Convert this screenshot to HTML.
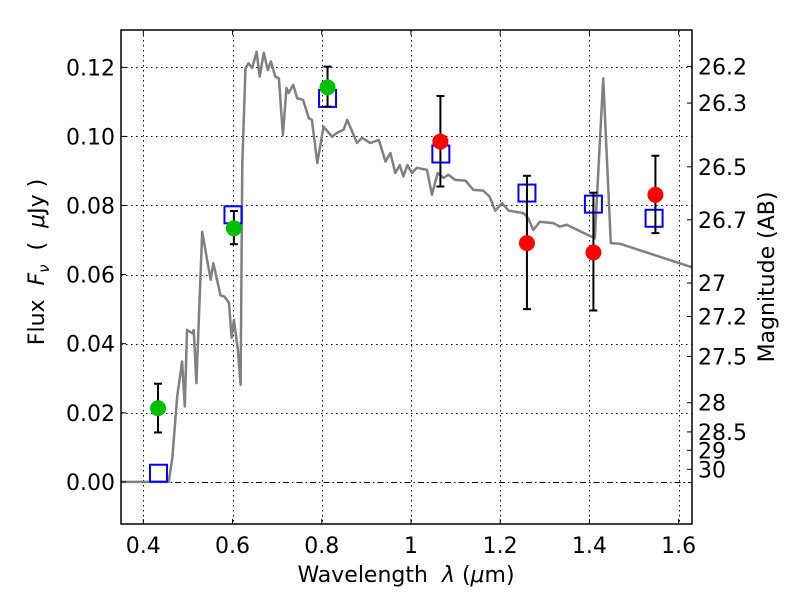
<!DOCTYPE html>
<html><head><meta charset="utf-8"><style>
html,body{margin:0;padding:0;background:#fff;}
svg{display:block;font-family:"DejaVu Sans","Liberation Sans",sans-serif;}
</style></head><body>
<svg id="chart" width="800" height="600">
<g id="grid"></g>
<g id="spec"></g>
<g id="marks"></g>
<g id="axes"></g>
<text x="406" y="582" font-size="22" text-anchor="middle" xml:space="preserve">Wavelength  <tspan font-style="italic">λ</tspan> (<tspan font-style="italic">μ</tspan>m)</text>
<text transform="translate(44,262) rotate(-90)" font-size="22" text-anchor="middle" xml:space="preserve">Flux  <tspan font-style="italic">F<tspan font-size="15" dy="5">ν</tspan></tspan><tspan dy="-5">  (  </tspan><tspan font-style="italic">μ</tspan>Jy )</text>
<text transform="translate(774,277) rotate(-90)" font-size="22" text-anchor="middle">Magnitude (AB)</text>
</svg>
<script>
const xTicks=[0.4,0.6,0.8,1.0,1.2,1.4,1.6];
const xTickLabels=["0.4","0.6","0.8","1","1.2","1.4","1.6"];
const yTicks=[0,0.02,0.04,0.06,0.08,0.10,0.12];
const yTickLabels=["0.00","0.02","0.04","0.06","0.08","0.10","0.12"];
const magTicks=[26.2,26.3,26.5,26.7,27,27.2,27.5,28,28.5,29,30];
const magLabels=["26.2","26.3","26.5","26.7","27","27.2","27.5","28","28.5","29","30"];
const specLam=[0.35,0.457,0.465,0.476,0.487,0.493,0.498,0.510,0.513,0.519,0.532,0.543,0.551,0.557,0.573,0.582,0.592,0.598,0.603,0.612,0.618,0.622,0.629,0.636,0.644,0.654,0.661,0.670,0.679,0.686,0.696,0.704,0.713,0.721,0.726,0.736,0.745,0.758,0.771,0.778,0.790,0.804,0.823,0.834,0.849,0.857,0.879,0.890,0.909,0.928,0.943,0.954,0.965,0.975,0.983,0.992,1.002,1.013,1.036,1.047,1.060,1.073,1.084,1.099,1.122,1.140,1.162,1.176,1.189,1.204,1.219,1.252,1.263,1.274,1.289,1.319,1.334,1.349,1.412,1.431,1.448,1.469,1.63];
const specFlux=[0,0,0.0069,0.0247,0.0348,0.0218,0.044,0.043,0.044,0.0286,0.0724,0.0643,0.0585,0.0633,0.054,0.0536,0.0518,0.0417,0.0469,0.0382,0.0281,0.0923,0.1198,0.1212,0.1198,0.1245,0.1173,0.1242,0.1192,0.1217,0.1173,0.1168,0.1004,0.114,0.1126,0.1149,0.111,0.1106,0.1053,0.1048,0.0923,0.1028,0.0999,0.101,0.1019,0.1048,0.0981,0.0996,0.0981,0.099,0.0927,0.0952,0.0894,0.0917,0.0884,0.0917,0.0894,0.0909,0.0903,0.0831,0.0894,0.088,0.0889,0.0874,0.0872,0.0845,0.0843,0.0826,0.0785,0.0807,0.0785,0.0778,0.0763,0.0729,0.0753,0.0749,0.0739,0.0744,0.0705,0.1168,0.0691,0.0689,0.0621];
const greenLam=[0.433,0.603,0.813];
const greenFlux=[0.0213,0.0734,0.1142];
const greenLo=[0.0143,0.0688,0.1086];
const greenHi=[0.0284,0.0784,0.1202];
const redLam=[1.066,1.260,1.409,1.548];
const redFlux=[0.0985,0.0691,0.0664,0.0831];
const redLo=[0.0855,0.050,0.0496,0.072];
const redHi=[0.1117,0.0886,0.0837,0.0944];
const modelLam=[0.434,0.601,0.813,1.067,1.260,1.409,1.545];
const modelFlux=[0.0025,0.0773,0.111,0.0949,0.0836,0.0804,0.0763];

const L=121,R=692,T=30,B=524,x0=0.35,x1=1.63,y0=-0.0122,y1=0.1308;
const X=v=>L+(v-x0)/(x1-x0)*(R-L);
const Y=v=>B-(v-y0)/(y1-y0)*(B-T);
const P=v=>Math.round(v)+0.5;
const NS="http://www.w3.org/2000/svg";
function mk(tag,parent,attrs){const e=document.createElementNS(NS,tag);for(const k in attrs)e.setAttribute(k,attrs[k]);document.getElementById(parent).appendChild(e);return e;}

xTicks.forEach((t,i)=>{
  const g=mk('line','grid',{x1:P(X(t)),x2:P(X(t)),y1:T,y2:B,stroke:'#000','stroke-width':1,'stroke-dasharray':'1.5,3.5'});
  
  
  const l=mk('text','axes',{x:X(t),y:B+29,'font-size':22,'text-anchor':'middle'});
  l.textContent=xTickLabels[i];
  
  
  mk('line','axes',{x1:X(t),x2:X(t),y1:B,y2:B-5,stroke:'#000'});
  mk('line','axes',{x1:X(t),x2:X(t),y1:T,y2:T+5,stroke:'#000'});
});
yTicks.forEach((t,i)=>{
  if(t!==0){
    const g=mk('line','grid',{x1:L,x2:R,y1:P(Y(t)),y2:P(Y(t)),stroke:'#000','stroke-width':1,'stroke-dasharray':'1.5,3.5'});
    
    
  }
  const l=mk('text','axes',{x:L-6,y:Y(t)+8,'font-size':22,'text-anchor':'end'});
  l.textContent=yTickLabels[i];
  
  
  mk('line','axes',{x1:L,x2:L+5,y1:Y(t),y2:Y(t),stroke:'#000'});
});
const zl=mk('line','grid',{x1:L,x2:R,y1:P(Y(0)),y2:P(Y(0)),stroke:'#000','stroke-width':1,'stroke-dasharray':'6,3,1.5,3'});



magTicks.forEach((m,i)=>{
  const f=Math.pow(10,(23.9-m)/2.5);
  mk('line','axes',{x1:R,x2:R-5,y1:Y(f),y2:Y(f),stroke:'#000'});
  const l=mk('text','axes',{x:R+6,y:Y(f)+8,'font-size':22});
  l.textContent=magLabels[i];
  
  
});

const pts=specLam.map((v,i)=>X(v).toFixed(1)+','+Y(specFlux[i]).toFixed(1)).join(' ');
const sp=mk('polyline','spec',{points:pts,fill:'none',stroke:'#808080','stroke-width':2.5,'stroke-linejoin':'round'});



modelLam.forEach((v,i)=>{
  const s=mk('rect','marks',{x:X(v)-8.5,y:Y(modelFlux[i])-8.5,width:17,height:17,fill:'none',stroke:'#0000ff','stroke-width':2});
  
  
});
function err(lam,lo,hi){
  lam.forEach((v,i)=>{
    const x=X(v);
    mk('line','marks',{x1:x,x2:x,y1:Y(lo[i]),y2:Y(hi[i]),stroke:'#000','stroke-width':2});
    mk('line','marks',{x1:x-4,x2:x+4,y1:Y(lo[i]),y2:Y(lo[i]),stroke:'#000','stroke-width':2});
    mk('line','marks',{x1:x-4,x2:x+4,y1:Y(hi[i]),y2:Y(hi[i]),stroke:'#000','stroke-width':2});
  });
}
err(greenLam,greenLo,greenHi);
err(redLam,redLo,redHi);
greenLam.forEach((v,i)=>{
  const c=mk('circle','marks',{cx:X(v),cy:Y(greenFlux[i]),r:8,fill:'#00bf00'});
  
  
});
redLam.forEach((v,i)=>{
  const c=mk('circle','marks',{cx:X(v),cy:Y(redFlux[i]),r:8,fill:'#ff0000'});
  
  
});
const fr=mk('rect','axes',{x:L,y:T,width:R-L,height:B-T,fill:'none',stroke:'#000','stroke-width':1.5});


</script>
</body></html>
